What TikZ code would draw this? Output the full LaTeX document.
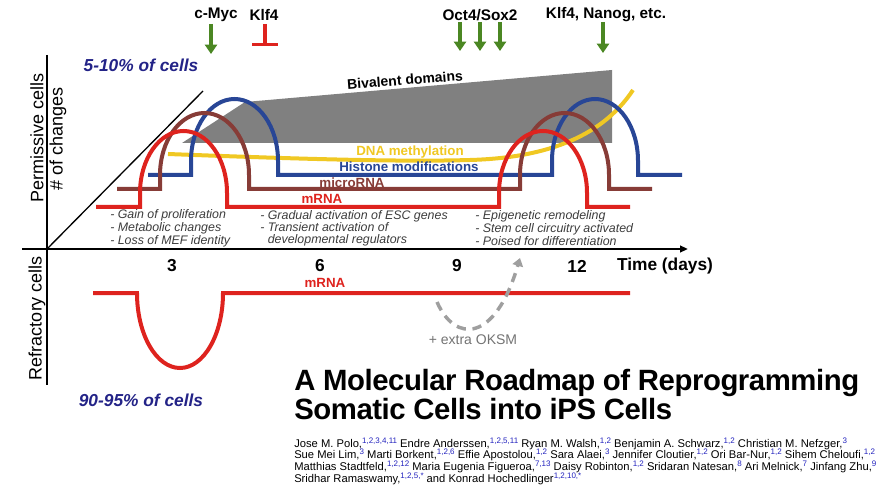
\documentclass[tikz,border=0pt]{standalone}
\usepackage{fontspec}
\setmainfont{Liberation Sans}
\newfontfamily\titlefont[LetterSpace=-1.5]{Liberation Sans}
\usetikzlibrary{arrows.meta}
\definecolor{mrnared}{RGB}{222,35,30}
\definecolor{mirbrown}{RGB}{135,60,55}
\definecolor{histblue}{RGB}{40,70,150}
\definecolor{dnayellow}{RGB}{240,200,35}
\definecolor{bivgray}{RGB}{128,128,128}
\definecolor{tfgreen}{RGB}{75,135,35}
\definecolor{pctnavy}{RGB}{35,35,135}
\definecolor{affblue}{RGB}{35,35,190}
\definecolor{notegray}{RGB}{60,60,60}
\newcommand{\aff}[1]{\raisebox{0.36em}[0pt][0pt]{\fontsize{6}{6}\selectfont\textcolor{affblue}{#1}}}
\tikzset{
  track/.style={line width=3pt},
  tflabel/.style={font=\fontsize{11.5}{12}\selectfont\bfseries},
  tfarrow/.style={tfgreen, line width=2.4pt, -{Triangle[width=9pt,length=7pt]}},
  daytick/.style={font=\fontsize{13}{14}\selectfont\bfseries},
  trackname/.style={font=\fontsize{10}{11}\selectfont\bfseries},
  axislabel/.style={rotate=90, font=\fontsize{13.5}{14}\selectfont},
  pct/.style={pctnavy, font=\fontsize{13}{14}\selectfont\bfseries\itshape},
  note/.style={notegray, align=left, anchor=west, inner sep=0pt,
    font=\fontsize{9.3}{8.6}\selectfont\itshape},
}

\begin{document}
\begin{tikzpicture}[x=0.75pt, y=-0.75pt]
    \useasboundingbox (0,0) rectangle (888,488);

    % Bivalent domains wedge
    \fill[bivgray] (182,143) -- (245,102) -- (612,70) -- (612,143) -- cycle;
    \node[font=\fontsize{10.5}{11}\selectfont\bfseries, rotate=4.5] (biv) at (405,80) {Bivalent domains};

    % DNA methylation
    \draw[track, dnayellow] (168,154) .. controls (300,159) and (400,162) .. (470,160)
        .. controls (540,158) and (600,140) .. (633,90);

    % Histone modifications, microRNA, mRNA: flat with two humps
    \draw[track, histblue] (148,175) -- (191,175) -- (191,161)
        arc[start angle=180, end angle=360, x radius=43.5, y radius=62] -- (278,175)
        -- (552,175) -- (552,161)
        arc[start angle=180, end angle=360, x radius=43, y radius=62] -- (638,175) -- (682,175);
    \draw[track, mirbrown] (117,189) -- (160,189) -- (160,175)
        arc[start angle=180, end angle=360, x radius=44.5, y radius=62] -- (249,189)
        -- (520,189) -- (520,175)
        arc[start angle=180, end angle=360, x radius=44.5, y radius=62] -- (609,189) -- (652,189);
    \draw[track, mrnared] (96,207) -- (140,207) -- (140,193)
        arc[start angle=180, end angle=360, x radius=43.5, y radius=62] -- (227,207)
        -- (499,207) -- (499,193)
        arc[start angle=180, end angle=360, x radius=44, y radius=62] -- (587,207) -- (630,207);

    \node[trackname, dnayellow] (dnalab) at (410,152) {DNA methylation};
    \node[trackname, histblue] (histlab) at (409,167) {Histone modifications};
    \node[trackname, mirbrown] (mirlab) at (352,183) {microRNA};
    \node[trackname, mrnared] (mrnalab) at (322,199) {mRNA};

    % Axes
    \coordinate (O) at (47,249);
    \coordinate (ytop) at (47,55);
    \coordinate (ybot) at (47,385);
    \coordinate (xleft) at (22,249);
    \coordinate (xend) at (688,249);
    \coordinate (diagend) at (203,91);
    \draw[line width=1.6pt] (ytop) -- (ybot);
    \draw[line width=1.6pt, -{Triangle[width=5pt,length=6pt]}] (xleft) -- (xend);
    \draw[line width=1pt] (O) -- (diagend);

    \node[axislabel] (perm) at (37,138) {Permissive cells};
    \node[axislabel] (nchg) at (58,139) {\# of changes};
    \node[axislabel] (refr) at (37,318) {Refractory cells};

    \node[daytick] (d3) at (172,266) {3};
    \node[daytick] (d6) at (320,266) {6};
    \node[daytick] (d9) at (457,266) {9};
    \node[daytick] (d12) at (577,266) {12};
    \node[daytick] (tdays) at (665,266) {Time (days)};

    \node[pct] (pcttop) at (141,65) {5-10\% of cells};
    \node[pct] (pctbot) at (141,400) {90-95\% of cells};

    % Factors on top
    \node[tflabel] (cmyc) at (216,15) {c-Myc};
    \node[tflabel] (klf) at (264,15) {Klf4};
    \node[tflabel] (os) at (480,15) {Oct4/Sox2};
    \node[tflabel] (kn) at (606,15) {Klf4, Nanog, etc.};
    \coordinate (cmyc-s) at (211,24);  \coordinate (cmyc-e) at (211,54);
    \coordinate (klf-s) at (265,24);   \coordinate (klf-e) at (265,46);
    \draw[tfarrow] (cmyc-s) -- (cmyc-e);
    \draw[mrnared, line width=2.4pt, -{Bar[width=19pt, line width=2.4pt]}] (klf-s) -- (klf-e);
    \foreach \px [count=\i] in {460,480,500} {
        \coordinate (os-s\i) at (\px,22);
        \coordinate (os-e\i) at (\px,51);
        \draw[tfarrow] (os-s\i) -- (os-e\i);
    }
    \coordinate (kn-s) at (603,22);  \coordinate (kn-e) at (603,53);
    \draw[tfarrow] (kn-s) -- (kn-e);

    % Events per phase
    \node[note] (ph1) at (110,228) {- Gain of proliferation\\- Metabolic changes\\- Loss of MEF identity};
    \node[note] (ph2) at (260,228) {- Gradual activation of ESC genes\\- Transient activation of\\\hphantom{- }developmental regulators};
    \node[note] (ph3) at (475,228) {- Epigenetic remodeling\\- Stem cell circuitry activated\\- Poised for differentiation};

    % Refractory cells
    \draw[track, mrnared] (93,293) -- (137,293)
        arc[start angle=180, end angle=0, x radius=43, y radius=75] -- (630,293);
    \node[trackname, mrnared] (mrnabot) at (325,283) {mRNA};

    \coordinate (oksm-s) at (437,302);
    \coordinate (oksm-e) at (520,258);
    \draw[line width=2.6pt, gray!75, dash pattern=on 7pt off 5pt, -{Triangle[width=8pt,length=6pt]}]
        (oksm-s) .. controls (455,343) and (495,343) .. (oksm-e);
    \node[gray!90!black, font=\fontsize{10.5}{11}\selectfont] (oksm) at (473,340) {+ extra OKSM};

    % Title and authors
    \node[anchor=north west, align=left, inner sep=0pt,
        font=\fontsize{22}{19.9}\selectfont\titlefont\bfseries] (title) at (294,369)
        {A Molecular Roadmap of Reprogramming\\Somatic Cells into iPS Cells};
    \node[anchor=north west, align=left, inner sep=0pt,
        font=\fontsize{8.4}{8.7}\selectfont] (authors) at (294,439)
        {Jose M. Polo,\aff{1,2,3,4,11} Endre Anderssen,\aff{1,2,5,11} Ryan M. Walsh,\aff{1,2} Benjamin A. Schwarz,\aff{1,2} Christian M. Nefzger,\aff{3}\\
         Sue Mei Lim,\aff{3} Marti Borkent,\aff{1,2,6} Effie Apostolou,\aff{1,2} Sara Alaei,\aff{3} Jennifer Cloutier,\aff{1,2} Ori Bar-Nur,\aff{1,2} Sihem Cheloufi,\aff{1,2}\\
         Matthias Stadtfeld,\aff{1,2,12} Maria Eugenia Figueroa,\aff{7,13} Daisy Robinton,\aff{1,2} Sridaran Natesan,\aff{8} Ari Melnick,\aff{7} Jinfang Zhu,\aff{9}\\
         Sridhar Ramaswamy,\aff{1,2,5,*} and Konrad Hochedlinger\aff{1,2,10,*}};
\end{tikzpicture}
\end{document}
